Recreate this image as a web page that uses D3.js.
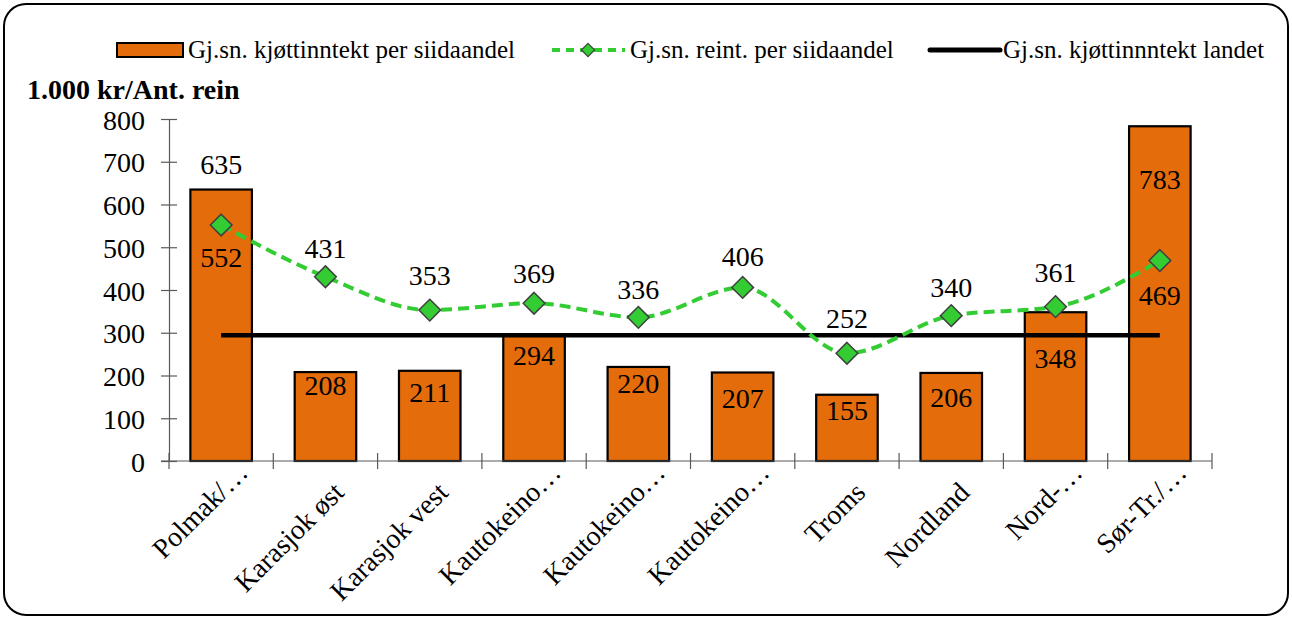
<!DOCTYPE html>
<html lang="no">
<head>
<meta charset="utf-8">
<title>Kjøttinntekt per siidaandel</title>
<script src="https://cdn.jsdelivr.net/npm/d3@7"></script>
<style>
  body { margin: 0; background: #fff; }
  svg text { font-family: "Liberation Serif", "Times New Roman", serif; fill: #000; }
  .axis path, .axis line { stroke: #595959; stroke-width: 1.2; }
  .axis text { font-size: 28px; }
</style>
</head>
<body>
<div id="chart"></div>
<script>
// data
var categories = ["Polmak/…", "Karasjok øst", "Karasjok vest", "Kautokeino…", "Kautokeino…",
                  "Kautokeino…", "Troms", "Nordland", "Nord-…", "Sør-Tr./…"];
var incomeValues = [635, 208, 211, 294, 220, 207, 155, 206, 348, 783];
var reinValues = [552, 431, 353, 369, 336, 406, 252, 340, 361, 469];
var nationalAvg = 294;
var yTicks = [0, 100, 200, 300, 400, 500, 600, 700, 800];
var seriesNames = ["Gj.sn. kjøttinntekt per siidaandel", "Gj.sn. reint. per siidaandel", "Gj.sn. kjøttinnntekt landet"];

// label layout (px offsets from the mark, hand-placed like the original)
var barLabelDy = [-25, 13, 21, 20, 16, 26, 15, 24, 46, 53];
var lineLabelDy = [32, -29, -35, -30, -28, -31, -35, -28, -34, 35];

var w = 1292, h = 619;
var plotL = 169, plotR = 1212, plotT = 119, plotB = 461;

var svg = d3.select("#chart").append("svg")
  .attr("width", w).attr("height", h)
  .attr("font-family", "Liberation Serif, Times New Roman, serif");

svg.append("rect")
  .attr("x", 4).attr("y", 4).attr("width", w - 8).attr("height", h - 8)
  .attr("rx", 22).attr("fill", "#fff").attr("stroke", "#000").attr("stroke-width", 2);

var x = d3.scaleBand().domain(d3.range(categories.length)).range([plotL, plotR]).paddingInner(0.41).paddingOuter(0.205);
var xb = d3.scaleBand().domain(d3.range(categories.length)).range([plotL, plotR]);
var y = d3.scaleLinear().domain([0, 800]).range([plotB, plotT]);

// y axis
var yAxis = svg.append("g").attr("class", "axis")
  .attr("transform", "translate(" + plotL + ",0)")
  .call(d3.axisLeft(y).tickValues(yTicks).tickSize(8).tickSizeOuter(0).tickPadding(16));
yAxis.attr("font-family", null).attr("font-size", null);
yAxis.selectAll(".tick line").attr("x1", 8);
yAxis.selectAll(".tick text").attr("fill", "#000").attr("dy", "0.36em");

// bars
svg.selectAll("rect.bar").data(incomeValues).enter().append("rect")
  .attr("class", "bar")
  .attr("x", function(d, i) { return x(i); })
  .attr("y", function(d) { return y(d); })
  .attr("width", x.bandwidth())
  .attr("height", function(d) { return y(0) - y(d); })
  .attr("fill", "#e46c0a").attr("stroke", "#000").attr("stroke-width", 2.2);

// x axis
var xAxis = svg.append("g").attr("class", "axis")
  .attr("transform", "translate(0," + plotB + ")");
xAxis.append("line").attr("x1", plotL - 8).attr("x2", plotR).attr("y1", 0).attr("y2", 0);
xAxis.selectAll("line.tk").data(d3.range(categories.length + 1)).enter().append("line")
  .attr("class", "tk")
  .attr("x1", function(d) { return plotL + d * xb.step(); })
  .attr("x2", function(d) { return plotL + d * xb.step(); })
  .attr("y1", -8).attr("y2", 8);

svg.selectAll("text.cat").data(categories).enter().append("text")
  .attr("class", "cat")
  .attr("text-anchor", "end")
  .attr("font-size", 28)
  .attr("transform", function(d, i) {
    var cx = xb(i) + xb.bandwidth() / 2 + 20;
    return "translate(" + cx + "," + (plotB + 33) + ") rotate(-45)";
  })
  // truncated labels sit a bit further out, as in the source
  .attr("dx", function(d) { return d.slice(-1) === "…" ? 20 : 0; })
  .attr("dy", function(d) { return d.slice(-1) === "…" ? -8 : 0; })
  .text(function(d) { return d; });

// national average line
svg.append("line")
  .attr("x1", xb(0) + xb.bandwidth() / 2)
  .attr("x2", xb(categories.length - 1) + xb.bandwidth() / 2)
  .attr("y1", y(nationalAvg)).attr("y2", y(nationalAvg))
  .attr("stroke", "#000").attr("stroke-width", 4.5);

// rein line
var line = d3.line()
  .x(function(d, i) { return xb(i) + xb.bandwidth() / 2; })
  .y(function(d) { return y(d); })
  .curve(d3.curveMonotoneX);
svg.append("path").datum(reinValues)
  .attr("d", line).attr("fill", "none")
  .attr("stroke", "#33cc33").attr("stroke-width", 4).attr("stroke-dasharray", "11,6");

var diamond = d3.symbol().type(d3.symbolDiamond2).size(300);
svg.selectAll("path.mk").data(reinValues).enter().append("path")
  .attr("class", "mk")
  .attr("d", diamond)
  .attr("transform", function(d, i) { return "translate(" + (xb(i) + xb.bandwidth() / 2) + "," + y(d) + ")"; })
  .attr("fill", "#33cc33").attr("stroke", "#404040").attr("stroke-width", 1.5);

// labels
svg.selectAll("text.bl").data(incomeValues).enter().append("text")
  .attr("class", "bl").attr("text-anchor", "middle").attr("font-size", 28)
  .attr("x", function(d, i) { return xb(i) + xb.bandwidth() / 2; })
  .attr("y", function(d, i) { return y(d) + barLabelDy[i]; })
  .attr("dy", "0.35em")
  .text(function(d) { return d; });

svg.selectAll("text.ll").data(reinValues).enter().append("text")
  .attr("class", "ll").attr("text-anchor", "middle").attr("font-size", 28)
  .attr("x", function(d, i) { return xb(i) + xb.bandwidth() / 2; })
  .attr("y", function(d, i) { return y(d) + lineLabelDy[i]; })
  .attr("dy", "0.35em")
  .text(function(d) { return d; });

// y title
svg.append("text").attr("x", 27).attr("y", 99)
  .attr("font-size", 28).attr("font-weight", "bold")
  .text("1.000 kr/Ant. rein");

// legend
var lg = svg.append("g").attr("font-size", 25);
lg.append("rect").attr("x", 117).attr("y", 43).attr("width", 66).attr("height", 14)
  .attr("fill", "#e46c0a").attr("stroke", "#000").attr("stroke-width", 2);
lg.append("text").attr("x", 188).attr("y", 58).text(seriesNames[0]);

lg.append("line").attr("x1", 552).attr("x2", 625).attr("y1", 50).attr("y2", 50)
  .attr("stroke", "#33cc33").attr("stroke-width", 4).attr("stroke-dasharray", "8,6");
lg.append("path").attr("d", d3.symbol().type(d3.symbolDiamond2).size(110))
  .attr("transform", "translate(588,50)")
  .attr("fill", "#33cc33").attr("stroke", "#404040").attr("stroke-width", 1.2);
lg.append("text").attr("x", 630).attr("y", 58).text(seriesNames[1]);

lg.append("line").attr("x1", 930).attr("x2", 1000).attr("y1", 50).attr("y2", 50)
  .attr("stroke", "#000").attr("stroke-width", 5).attr("stroke-linecap", "round");
lg.append("text").attr("x", 1003).attr("y", 58).text(seriesNames[2]);
</script>
</body>
</html>
